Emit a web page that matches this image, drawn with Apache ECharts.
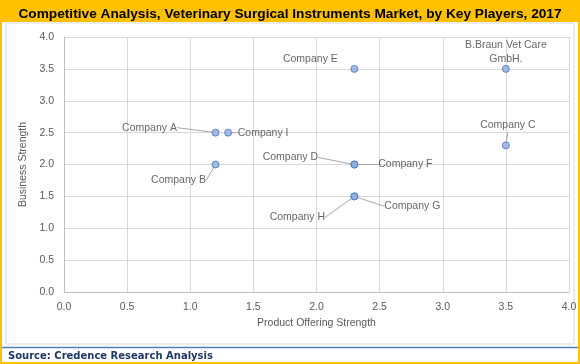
<!DOCTYPE html>
<html><head><meta charset="utf-8">
<script src="https://cdn.jsdelivr.net/npm/echarts@6/dist/echarts.min.js"></script>
<style>html,body{margin:0;padding:0;background:#fff}#c{width:580px;height:364px}</style>
</head><body><div id="c"></div>
<script>
const companies = ['Company A','Company I','Company B','Company D','Company F','Company H','Company G','Company E','B.Braun Vet Care\nGmbH.','Company C'];
const productOffering = [1.2,1.3,1.2,2.3,2.3,2.3,2.3,2.3,3.5,3.5];
const businessStrength = [2.5,2.5,2.0,2.0,2.0,1.5,1.5,3.5,3.5,2.3];
const xTicks = [0,0.5,1,1.5,2,2.5,3,3.5,4];
const yTicks = [0,0.5,1,1.5,2,2.5,3,3.5,4];

// label offsets (pixels from point), style only
const labelOffsets = {
  'Company A':[-66,-5], 'Company I':[35,0], 'Company B':[-37,16], 'Company D':[-64,-7],
  'Company F':[51,0], 'Company H':[-57,21], 'Company G':[58,10], 'Company E':[-44,-10],
  'B.Braun Vet Care\nGmbH.':[0,-17], 'Company C':[2,-20]
};
const noLine = {'Company E':true,'B.Braun Vet Care\nGmbH.':true};

const data = companies.map((n,i)=>({name:n, value:[productOffering[i], businessStrength[i]],
  labelLine:{show:!noLine[n]}}));

const chart = echarts.init(document.getElementById('c'));
const font = "'Liberation Sans', Arial, sans-serif";
chart.setOption({
  animation:false,
  graphic:[
    {type:'rect',shape:{x:0,y:0,width:580,height:22},style:{fill:'#FFC000'},z:-10},
    {type:'rect',shape:{x:1,y:1,width:578,height:362},style:{fill:null,stroke:'#FFC000',lineWidth:2},z:-9},
    {type:'rect',shape:{x:6,y:23,width:568,height:321},style:{fill:null,stroke:'#d9d9d9',lineWidth:1},z:-9},
    {type:'line',shape:{x1:2,y1:347.5,x2:578,y2:347.5},style:{stroke:'#4F81BD',lineWidth:1.5}},
    {type:'text',left:8,top:351,style:{text:'Source: Credence Research Analysis',font:"bold 10px Verdana, 'DejaVu Sans', sans-serif",fill:'#1F3864'}}
  ],
  title:{text:'Competitive Analysis, Veterinary Surgical Instruments Market, by Key Players, 2017',left:'center',top:2,
    textStyle:{fontFamily:font,fontWeight:'bold',fontSize:13.7,color:'#000'}},
  grid:{left:64,right:11,top:37,bottom:72},
  xAxis:{type:'value',min:0,max:4,interval:0.5,
    name:'Product Offering Strength',nameLocation:'middle',nameGap:26,
    nameTextStyle:{fontFamily:font,fontSize:10.5,color:'#595959'},
    axisLine:{show:true,lineStyle:{color:'#bfbfbf'}},axisTick:{show:false},
    axisLabel:{fontFamily:font,fontSize:10.5,color:'#595959',margin:10,formatter:v=>v.toFixed(1)},
    splitLine:{show:true,lineStyle:{color:'#d9d9d9'}}},
  yAxis:{type:'value',min:0,max:4,interval:0.5,
    name:'Business Strength',nameLocation:'middle',nameGap:32,
    nameTextStyle:{fontFamily:font,fontSize:10.5,color:'#595959'},
    axisLine:{show:true,lineStyle:{color:'#bfbfbf'}},axisTick:{show:false},
    axisLabel:{fontFamily:font,fontSize:10.5,color:'#595959',margin:10,formatter:v=>v.toFixed(1)},
    splitLine:{show:true,lineStyle:{color:'#d9d9d9'}}},
  series:[{
    type:'scatter',symbolSize:7,
    itemStyle:{color:'#8FAADC',borderColor:'#4472C4',borderWidth:1},
    data:data,
    label:{show:true,position:'inside',formatter:p=>p.name,fontFamily:font,fontSize:10.5,color:'#404040',lineHeight:14},
    labelLine:{show:true,lineStyle:{color:'#a6a6a6',width:1}},
    labelLayout:function(p){const o=labelOffsets[companies[p.dataIndex]];return {dx:o[0],dy:o[1]};}
  }]
});
</script></body></html>
